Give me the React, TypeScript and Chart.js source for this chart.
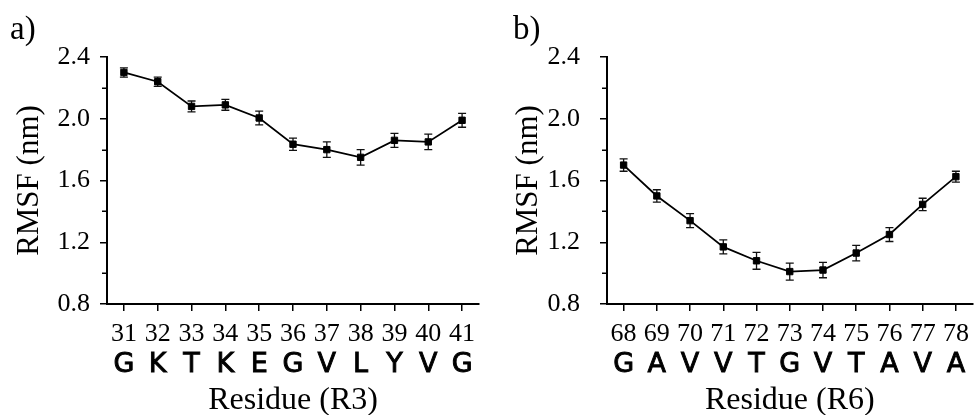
import React, { useEffect, useRef } from 'react';
import { Chart, registerables } from 'chart.js';

Chart.register(...registerables);

// ---- Data ----
const residuesA = ['31', '32', '33', '34', '35', '36', '37', '38', '39', '40', '41'];
const aminoA = ['G', 'K', 'T', 'K', 'E', 'G', 'V', 'L', 'Y', 'V', 'G'];
const rmsfA = [2.30, 2.24, 2.08, 2.09, 2.005, 1.835, 1.80, 1.75, 1.86, 1.85, 1.99];
const errA = [0.03, 0.03, 0.035, 0.035, 0.045, 0.04, 0.05, 0.05, 0.045, 0.05, 0.045];

const residuesB = ['68', '69', '70', '71', '72', '73', '74', '75', '76', '77', '78'];
const aminoB = ['G', 'A', 'V', 'V', 'T', 'G', 'V', 'T', 'A', 'V', 'A'];
const rmsfB = [1.70, 1.50, 1.34, 1.17, 1.08, 1.01, 1.02, 1.13, 1.25, 1.445, 1.625];
const errB = [0.04, 0.04, 0.045, 0.045, 0.055, 0.055, 0.05, 0.05, 0.045, 0.04, 0.035];

const yMin = 0.8;
const yMax = 2.4;
const yMajorStep = 0.4;
const yMinorTicks = [1.0, 1.4, 1.8, 2.2];

const yTitle = 'RMSF (nm)';

const SERIF = '"Liberation Serif", "Times New Roman", serif';
const SANS = '"DejaVu Sans", Verdana, sans-serif';

type PanelCfg = {
  tag: string;
  xTitle: string;
  residues: string[];
  amino: string[];
  values: number[];
  errors: number[];
  yWidth: number;
  padRight: number;
  yTickPad: number;
  tagX: number;
  yTitleX: number;
};

const panels: PanelCfg[] = [
  {
    tag: 'a)', xTitle: 'Residue (R3)', residues: residuesA, amino: aminoA, values: rmsfA, errors: errA,
    yWidth: 107, padRight: 10, yTickPad: 10, tagX: 10, yTitleX: 30,
  },
  {
    tag: 'b)', xTitle: 'Residue (R6)', residues: residuesB, amino: aminoB, values: rmsfB, errors: errB,
    yWidth: 118, padRight: 0, yTickPad: 20, tagX: 24, yTitleX: 40,
  },
];

function Panel({ cfg, left }: { cfg: PanelCfg; left: number }) {
  const ref = useRef<HTMLCanvasElement>(null);

  useEffect(() => {
    const canvas = ref.current!;
    const plugin = {
      id: 'extras',
      beforeDatasetsDraw(chart: any) {
        const ctx = chart.ctx;
        const xs = chart.scales.x;
        const ys = chart.scales.y;
        ctx.save();
        ctx.strokeStyle = '#111';
        ctx.lineWidth = 1.3;
        cfg.values.forEach((v, i) => {
          const x = xs.getPixelForValue(i);
          const yt = ys.getPixelForValue(v + cfg.errors[i]);
          const yb = ys.getPixelForValue(v - cfg.errors[i]);
          ctx.beginPath();
          ctx.moveTo(x, yt);
          ctx.lineTo(x, yb);
          ctx.moveTo(x - 4, yt);
          ctx.lineTo(x + 4, yt);
          ctx.moveTo(x - 4, yb);
          ctx.lineTo(x + 4, yb);
          ctx.stroke();
        });
        ctx.restore();
      },
      afterDraw(chart: any) {
        const ctx = chart.ctx;
        const xs = chart.scales.x;
        const ys = chart.scales.y;
        const area = chart.chartArea;
        ctx.save();
        // minor y ticks
        ctx.strokeStyle = '#000';
        ctx.lineWidth = 1.5;
        yMinorTicks.forEach((v) => {
          const y = Math.round(ys.getPixelForValue(v)) + 0.25;
          ctx.beginPath();
          ctx.moveTo(area.left - 5, y);
          ctx.lineTo(area.left, y);
          ctx.stroke();
        });
        ctx.fillStyle = '#000';
        // amino-acid letters
        ctx.font = `27px ${SANS}`;
        ctx.textAlign = 'center';
        ctx.textBaseline = 'alphabetic';
        ctx.lineWidth = 0.9;
        cfg.amino.forEach((a, i) => {
          const x = xs.getPixelForTick(i);
          ctx.fillText(a, x, 372);
          ctx.strokeText(a, x, 372);
        });
        // x title
        ctx.font = `32px ${SERIF}`;
        ctx.fillText(cfg.xTitle, (area.left + area.right) / 2, 409);
        // panel tag
        ctx.textAlign = 'left';
        ctx.font = `33px ${SERIF}`;
        ctx.fillText(cfg.tag, cfg.tagX, 39);
        // y title
        ctx.translate(cfg.yTitleX, (area.top + area.bottom) / 2);
        ctx.rotate(-Math.PI / 2);
        ctx.textAlign = 'center';
        ctx.textBaseline = 'middle';
        ctx.font = `31px ${SERIF}`;
        ctx.fillText(yTitle, 0, 0);
        ctx.restore();
      },
    };

    const chart = new Chart(canvas, {
      type: 'line',
      data: {
        labels: cfg.residues,
        datasets: [
          {
            data: cfg.values,
            borderColor: '#000',
            borderWidth: 1.8,
            tension: 0,
            pointStyle: 'rect',
            pointRadius: 4.5,
            pointBackgroundColor: '#000',
            pointBorderColor: '#000',
            pointBorderWidth: 1,
          },
        ],
      },
      options: {
        animation: false,
        responsive: false,
        devicePixelRatio: 1,
        layout: { padding: { top: 57, right: cfg.padRight, bottom: 0, left: 0 } },
        plugins: { legend: { display: false }, tooltip: { enabled: false } },
        scales: {
          x: {
            type: 'category',
            offset: true,
            afterFit(scale: any) {
              scale.height = 111;
            },
            grid: {
              drawOnChartArea: false,
              drawTicks: true,
              tickLength: 7,
              color: '#000',
              lineWidth: 1.5,
              offset: false,
            },
            border: { display: true, color: '#000', width: 2 },
            ticks: {
              color: '#000',
              font: { family: SERIF, size: 26 },
              padding: 8,
              maxRotation: 0,
              autoSkip: false,
            },
          },
          y: {
            min: yMin,
            max: yMax,
            afterFit(scale: any) {
              scale.width = cfg.yWidth;
            },
            grid: {
              drawOnChartArea: false,
              drawTicks: true,
              tickLength: 7,
              color: '#000',
              lineWidth: 1.5,
            },
            border: { display: true, color: '#000', width: 2 },
            ticks: {
              stepSize: yMajorStep,
              color: '#000',
              font: { family: SERIF, size: 26 },
              padding: cfg.yTickPad,
              callback: (v: any) => Number(v).toFixed(1),
            },
          },
        },
      },
      plugins: [plugin],
    } as any);
    return () => chart.destroy();
  }, [cfg]);

  return (
    <div style={{ position: 'absolute', left, top: 0, width: 489, height: 415 }}>
      <canvas ref={ref} width={489} height={415} style={{ display: 'block' }} />
    </div>
  );
}

export default function App() {
  return (
    <div style={{ position: 'absolute', left: 0, top: 0, width: 978, height: 415, background: '#fff' }}>
      <Panel cfg={panels[0]} left={0} />
      <Panel cfg={panels[1]} left={489} />
    </div>
  );
}
